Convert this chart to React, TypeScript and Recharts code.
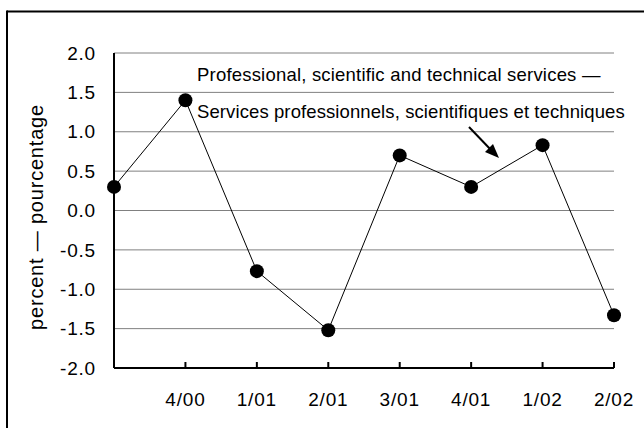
import { CartesianGrid, Customized, Line, LineChart, XAxis, YAxis } from "recharts";

const quarters = ["", "4/00", "1/01", "2/01", "3/01", "4/01", "1/02", "2/02"];
const change = [0.3, 1.4, -0.77, -1.52, 0.7, 0.3, 0.83, -1.33];
const yTicks = [-2, -1.5, -1, -0.5, 0, 0.5, 1, 1.5, 2];

const titleEn = "Professional, scientific and technical services —";
const titleFr = "Services professionnels, scientifiques et techniques";
const yLabel = "percent — pourcentage";

const data = quarters.map((q, i) => ({ quarter: q, value: change[i] }));

const font = "'Liberation Sans', Arial, sans-serif";

// x ticks point up into the plot, label sits well below the axis
function QuarterTick(props: any) {
  const { x, y, payload } = props;
  return (
    <g>
      <path d={`M${x},${y} L${x},${y - 6}`} stroke="#000" strokeWidth={2} fill="none" />
      <text x={x} y={y + 38} textAnchor="middle" fontSize={19} letterSpacing={0.8} fontFamily={font} fill="#000">
        {payload.value}
      </text>
    </g>
  );
}

function Annotations() {
  return (
    <g fontFamily={font} fill="#000">
      {/* frame */}
      <line x1={7} y1={11.5} x2={644} y2={11.5} stroke="#000" strokeWidth={2} />
      <line x1={7} y1={10.5} x2={7} y2={428} stroke="#000" strokeWidth={2} />
      <text x={43} y={217} fontSize={20} letterSpacing={0.8} textAnchor="middle" transform="rotate(-90, 43, 217)">
        {yLabel}
      </text>
      <text x={197} y={81} fontSize={18.5} letterSpacing={0.2}>
        {titleEn}
      </text>
      <text x={197} y={118} fontSize={18.5} letterSpacing={0.1}>
        {titleFr}
      </text>
      <line x1={469} y1={127} x2={492} y2={151} stroke="#000" strokeWidth={2} />
      <polygon points="499,158 485,152 493,144" fill="#000" />
    </g>
  );
}

export default function App() {
  return (
    <div style={{ position: "fixed", left: 0, top: 0, width: 644, height: 428, background: "#fff" }}>
      <LineChart width={644} height={428} data={data} margin={{ top: 53, right: 30, bottom: 10, left: 54 }}>
        <CartesianGrid vertical={false} stroke="#808080" strokeWidth={1} />
        <XAxis
          dataKey="quarter"
          height={50}
          padding={{ left: 0, right: 0 }}
          axisLine={{ stroke: "#000", strokeWidth: 2 }}
          tickLine={false}
          tickSize={0}
          tickMargin={0}
          tick={<QuarterTick />}
          interval={0}
        />
        <YAxis
          domain={[-2, 2]}
          ticks={yTicks}
          width={60}
          axisLine={{ stroke: "#000", strokeWidth: 2 }}
          tickLine={false}
          tickSize={0}
          tickMargin={18}
          tickFormatter={(v: number) => v.toFixed(1)}
          tick={{ fill: "#000", fontSize: 19, fontFamily: font, letterSpacing: 0.8 }}
          interval={0}
        />
        <Line
          dataKey="value"
          stroke="#000"
          strokeWidth={1}
          dot={{ r: 7, fill: "#000", stroke: "#000", strokeWidth: 0 }}
          isAnimationActive={false}
        />
        <Customized component={Annotations} />
      </LineChart>
    </div>
  );
}
